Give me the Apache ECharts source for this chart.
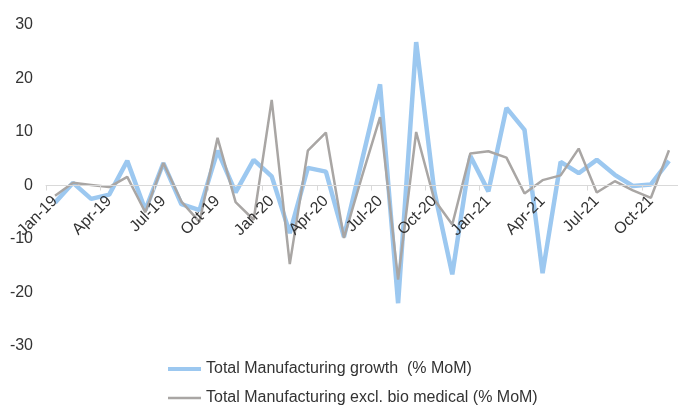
<!DOCTYPE html>
<html>
<head>
<meta charset="utf-8">
<script src="https://cdn.jsdelivr.net/npm/echarts@6/dist/echarts.min.js"></script>
<style>
  html, body { margin: 0; padding: 0; background: #ffffff; }
  #chart { width: 678px; height: 405px; }
</style>
</head>
<body>
<div id="chart"></div>
<script>
// Monthly categories, Jan-19 to Nov-21
const months = [
  'Jan-19','Feb-19','Mar-19','Apr-19','May-19','Jun-19','Jul-19','Aug-19','Sep-19','Oct-19','Nov-19','Dec-19',
  'Jan-20','Feb-20','Mar-20','Apr-20','May-20','Jun-20','Jul-20','Aug-20','Sep-20','Oct-20','Nov-20','Dec-20',
  'Jan-21','Feb-21','Mar-21','Apr-21','May-21','Jun-21','Jul-21','Aug-21','Sep-21','Oct-21','Nov-21'
];

// Total manufacturing output growth, % month on month
const totalGrowth = [
  -3.2, 0.5, -2.5, -1.7, 4.6, -4.6, 4.2, -3.5, -4.6, 6.5, -1.3, 4.8,
  1.7, -8.9, 3.3, 2.6, -9.6, 4.7, 18.9, -22.0, 26.8, -1.0, -16.6, 5.5,
  -1.1, 14.5, 10.4, -16.4, 4.4, 2.3, 4.8, 2.0, -0.1, 0.2, 4.6
];

// Total manufacturing excluding biomedical, % month on month
const exBiomedical = [
  -1.9, 0.5, 0.1, -0.3, 1.6, -5.0, 4.2, -3.0, -6.8, 8.9, -3.1, -6.4,
  16.0, -14.7, 6.5, 9.9, -9.8, 1.7, 12.8, -17.6, 10.0, -2.6, -7.3, 6.0,
  6.4, 5.2, -1.5, 1.0, 1.9, 6.9, -1.3, 0.8, -0.9, -2.3, 6.6
];

const seriesNames = [
  'Total Manufacturing growth  (% MoM)',
  'Total Manufacturing excl. bio medical (% MoM)'
];

const FONT = '"Liberation Sans", Arial, sans-serif';
const TEXT = '#333333';
const BLUE = '#9cc8f0';
const GREY = '#a9a6a4';

// grid geometry: plot spans y = 25..346, so zero sits half the plot height above the bottom edge
const GRID_TOP = 25;
const GRID_BOTTOM = 59;
const PLOT_H = 405 - GRID_TOP - GRID_BOTTOM;

const legendBase = {
  orient: 'vertical',
  left: 168,
  padding: 0,
  itemWidth: 33,
  icon: 'rect',
  textStyle: { fontFamily: FONT, fontSize: 16, color: TEXT }
};

const chart = echarts.init(document.getElementById('chart'), null, { renderer: 'canvas' });

chart.setOption({
  animation: false,
  backgroundColor: '#ffffff',
  textStyle: { fontFamily: FONT },
  grid: { left: 46, right: -4, top: GRID_TOP, bottom: GRID_BOTTOM, containLabel: false },
  legend: [
    Object.assign({}, legendBase, { top: 361, itemHeight: 4, data: [seriesNames[0]] }),
    Object.assign({}, legendBase, { top: 390, itemHeight: 2.5, data: [seriesNames[1]] })
  ],
  xAxis: {
    type: 'category',
    data: months,
    boundaryGap: true,
    position: 'bottom',
    offset: -PLOT_H / 2,
    z: 10,
    axisLine: { onZero: false, lineStyle: { color: '#d9d9d9', width: 1 } },
    axisTick: { show: true, interval: 2, length: 5, lineStyle: { color: '#d9d9d9' } },
    axisLabel: {
      interval: 2,
      rotate: 45,
      fontSize: 16,
      fontFamily: FONT,
      color: TEXT,
      margin: 13
    },
    splitLine: { show: false }
  },
  yAxis: {
    type: 'value',
    min: -30,
    max: 30,
    interval: 10,
    axisLine: { show: false },
    axisTick: { show: false },
    splitLine: { show: false },
    axisLabel: { fontSize: 16, fontFamily: FONT, color: TEXT, margin: 13 }
  },
  series: [
    {
      name: seriesNames[0],
      type: 'line',
      data: totalGrowth,
      symbol: 'none',
      lineStyle: { color: BLUE, width: 4.5 },
      itemStyle: { color: BLUE },
      z: 2
    },
    {
      name: seriesNames[1],
      type: 'line',
      data: exBiomedical,
      symbol: 'none',
      lineStyle: { color: GREY, width: 2.5 },
      itemStyle: { color: GREY },
      z: 3
    }
  ]
});
</script>
</body>
</html>
